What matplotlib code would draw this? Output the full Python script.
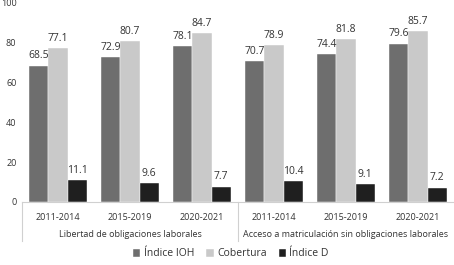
import matplotlib.pyplot as plt
import numpy as np
from matplotlib.lines import Line2D

plt.rcParams['font.family'] = ['Open Sans', 'DejaVu Sans']

periodos = ['2011-2014', '2015-2019', '2020-2021'] * 2
grupos = ['Libertad de obligaciones laborales', 'Acceso a matriculación sin obligaciones laborales']
indice_ioh = [68.5, 72.9, 78.1, 70.7, 74.4, 79.6]
cobertura = [77.1, 80.7, 84.7, 78.9, 81.8, 85.7]
indice_d = [11.1, 9.6, 7.7, 10.4, 9.1, 7.2]

series = [('Índice IOH', indice_ioh, '#6e6e6e'),
          ('Cobertura', cobertura, '#c9c9c9'),
          ('Índice D', indice_d, '#1f1f1f')]

fig = plt.figure(figsize=(4.54, 2.65), dpi=100)
ax = fig.add_axes([0.0485, 0.238, 0.9515, 0.751])

x = np.arange(len(periodos))
w = 0.265
txt = '#333333'
for i, (nombre, vals, color) in enumerate(series):
    bars = ax.bar(x + (i - 1) * w, vals, w, color=color, label=nombre, edgecolor='white', linewidth=0.3)
    for b, v in zip(bars, vals):
        ax.annotate(f'{v:.1f}', (b.get_x() + b.get_width() / 2, v), xytext=(0, 3),
                    textcoords='offset points', ha='center', va='bottom', fontsize=7.5, color=txt)

ax.set_xlim(-0.5, 5.5)
ax.set_ylim(0, 100)
ax.set_yticks([0, 20, 40, 60, 80, 100])
ax.tick_params(axis='y', length=0, labelsize=6.5, labelcolor=txt, pad=4)
ax.set_xticks(x)
ax.set_xticklabels(periodos, fontsize=6.5, color=txt)
ax.tick_params(axis='x', length=0, pad=8)
for s in ['top', 'right', 'left']:
    ax.spines[s].set_visible(False)
ax.spines['bottom'].set_color('#d0d0d0')
ax.spines['bottom'].set_linewidth(0.8)

# group labels and separators
for g, nombre in enumerate(grupos):
    ax.text(g * 3 + 1, -0.163, nombre, transform=ax.get_xaxis_transform(),
            ha='center', va='center', fontsize=6.5, color=txt)
for xs in [-0.5, 2.5]:
    ax.add_line(Line2D([xs, xs], [0, -0.195], transform=ax.get_xaxis_transform(),
                       color='#d0d0d0', lw=0.8, clip_on=False))

fig.legend(loc='center', bbox_to_anchor=(231 / 454, 1 - 254 / 265), ncol=3, frameon=False,
           fontsize=7.5, handlelength=0.7, handleheight=0.7, handletextpad=0.3,
           columnspacing=1.2, labelcolor=txt)

fig.savefig('out.png', dpi=100)
